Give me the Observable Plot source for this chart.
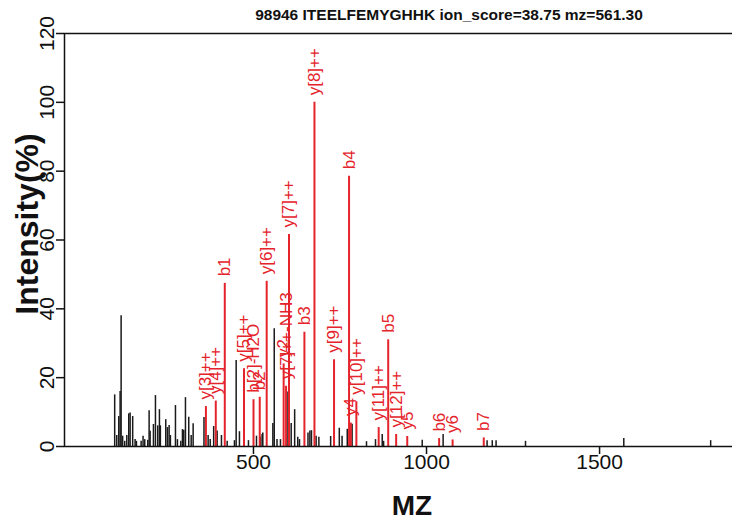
<!DOCTYPE html>
<html><head><meta charset="utf-8">
<script src="https://cdn.jsdelivr.net/npm/d3@7"></script>
<script src="https://cdn.jsdelivr.net/npm/@observablehq/plot@0.6"></script>
<style>
body{margin:0;background:#fff;}
#wrap{position:relative;width:732px;height:530px;overflow:hidden;font-family:"Liberation Sans",Arial,sans-serif;background:#fff;}
#title{position:absolute;top:6px;left:64px;width:770px;text-align:center;font-weight:bold;font-size:15.5px;color:#111;white-space:nowrap;}
#ylab{position:absolute;left:27px;top:224px;transform:translate(-50%,-50%) rotate(-90deg);font-weight:bold;font-size:32px;white-space:nowrap;color:#111;}
#xlab{position:absolute;left:64px;width:696px;top:490px;text-align:center;font-weight:bold;font-size:28px;color:#111;}
#chart{position:absolute;left:0;top:0;width:760px;}
#chart svg{max-width:none !important;height:530px !important;}
</style></head>
<body>
<div id="wrap">
  <div id="chart"></div>
  <div id="title">98946 ITEELFEMYGHHK ion_score=38.75 mz=561.30</div>
  <div id="ylab">Intensity(%)</div>
  <div id="xlab">MZ</div>
</div>
<script>
// unmatched (black) peaks
const peakMz = [99,105,110.7,114.7,117.6,122,128,134,139.6,143.6,151,158,161.8,175.4,181,185.8,194.5,198.5,201.4,211,216.8,223.4,228.3,231,246.5,251.4,256.3,260,274.6,280.3,290,294.8,298.6,303.5,313,320,325.7,357,369,375,385,395,407.5,424,445,450,459.5,485.5,508.7,520,525,527,556,560,568,578,597,609,619,628,633,657.5,663,667.6,681,689,723,748,756,771,785,826.6,852.6,872,876,987.6,1048,1175,1190,1201,1286,1570,1821];
const peakInt = [15,3.2,8.7,16,38,3,1.5,3.2,9.5,9.7,8.7,2,1.5,1.5,3,2,1.8,10.4,4.4,6.4,14.8,6,10.7,6,7.8,5.5,6.1,3.2,11.9,2,1.5,4.9,4.7,14.2,8.5,3.2,6.6,8.4,3.2,2,5.8,4.5,3.2,1.5,1.7,25,4.3,1.7,3,2.7,3.5,3.9,6.7,34.2,2,2,15.8,6.7,10.7,2.7,2,3.9,4.5,4.6,3,2.7,2.9,5.3,3,5,6.5,1.4,2,3.5,1.5,1.8,3.5,1.7,1.7,1.7,1.5,2.3,1.7];

// matched (red) ions
const ionLabel = ["y[3]++","y[4]++","b1","y[5]++","b[2]-H2O","b2","y[6]++","y2","y[7]++-NH3","y[7]++","b3","y[8]++","y[9]++","b4","y4","y[10]++","y[11]++","b5","y[12]++","y5","b6","y6","b7"];
const ionMz = [362.6,391.1,417.1,472.7,500.1,518.1,538.2,587.2,594.2,602.7,647.2,676.2,732.8,776.2,781.2,797.3,861.8,889.3,912.3,944.3,1036.4,1075.4,1165.4];
const ionInt = [11.6,13.2,47.4,22.6,13.6,14.3,48,24,17.5,61.6,33.2,100,25.2,78.5,6.8,13,5.5,31,3.5,2.9,2.3,1.9,2.5];

const xTicks = [500,1000,1500];
const yTicks = [0,20,40,60,80,100,120];

const peaks = peakMz.map((m,i)=>({mz:m, int:peakInt[i]}));
const ions = ionMz.map((m,i)=>({mz:m, int:ionInt[i], label:ionLabel[i]}));
const RED = "#e4232b";

const chart = Plot.plot({
  width: 760, height: 530,
  marginLeft: 64, marginRight: 0, marginTop: 33, marginBottom: 84,
  style: {fontFamily: "'Liberation Sans', Arial, sans-serif", background: "transparent", color: "#111", overflow: "visible", maxWidth: "none"},
  x: {domain: [-46, 1965]},
  y: {domain: [0, 120]},
  marks: [
    Plot.ruleX(peaks, {x: "mz", y1: 0, y2: "int", stroke: "#1a1a1a", strokeWidth: 1.5}),
    Plot.ruleX(ions, {x: "mz", y1: 0, y2: "int", stroke: RED, strokeWidth: 2}),
    Plot.text(ions, {x: "mz", y: "int", text: "label", rotate: -90, textAnchor: "start", lineAnchor: "middle", dy: -7, fill: RED, fontSize: 17}),
    Plot.frame({stroke: "#111", strokeWidth: 1.5}),
    Plot.axisX({ticks: xTicks, tickFormat: d => String(d), tickSize: 8, tickPadding: 0, fontSize: 21, label: null, strokeWidth: 1.5}),
    Plot.axisY({ticks: yTicks, tickFormat: d => String(d), tickSize: 8, tickPadding: 3, tickRotate: -90, fontSize: 21, label: null, strokeWidth: 1.5})
  ]
});
document.getElementById("chart").appendChild(chart);
</script>
</body></html>
